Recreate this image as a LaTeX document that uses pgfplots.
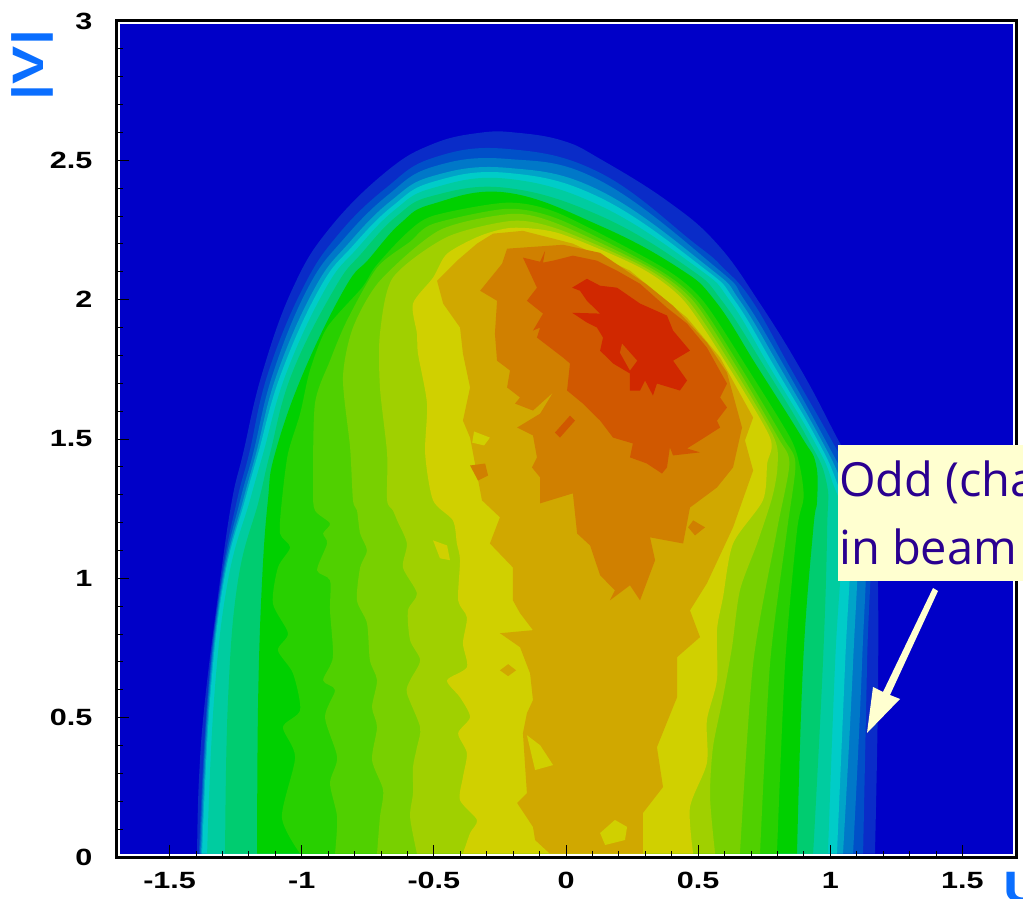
\documentclass[border=0pt]{standalone}
\usepackage{pgfplots}
\usepackage{fontspec}
\pgfplotsset{compat=1.18}
\setmainfont{Liberation Sans}
\newfontfamily\notefont{Open Sans}
\newfontfamily\tickfont[FakeStretch=1.3]{Liberation Sans}
\definecolor{c0}{HTML}{0000C8}
\definecolor{c1}{HTML}{0A2CC8}
\definecolor{c2}{HTML}{0050C8}
\definecolor{c3}{HTML}{0078C8}
\definecolor{c4}{HTML}{00A4C8}
\definecolor{c5}{HTML}{00CCC8}
\definecolor{c6}{HTML}{00CCA0}
\definecolor{c7}{HTML}{00CC70}
\definecolor{c8}{HTML}{00D000}
\definecolor{c9}{HTML}{28D000}
\definecolor{c10}{HTML}{50D000}
\definecolor{c11}{HTML}{78D000}
\definecolor{c12}{HTML}{A0D000}
\definecolor{c13}{HTML}{D0D000}
\definecolor{c14}{HTML}{D0A800}
\definecolor{c15}{HTML}{D08000}
\definecolor{c16}{HTML}{D05800}
\definecolor{c17}{HTML}{D02800}
\definecolor{notebg}{HTML}{FFFFD0}
\definecolor{notefg}{HTML}{2A0090}
\definecolor{lab}{HTML}{0A6EFF}
\pgfplotsset{band/.style={fill=#1,draw=none,mark=none,forget plot},sband/.style={fill=#1,draw=none,mark=none,forget plot,smooth,tension=0.7},wband/.style={fill=#1,draw=none,mark=none,forget plot,smooth,tension=0.45}}
\begin{document}
\begin{tikzpicture}
\clip (-117pt,-41pt) rectangle (906pt,857pt);
\begin{axis}[
 at={(0pt,0pt)},anchor=south west,scale only axis,
 width=899.5pt,height=836pt,
 xmin=-1.699,xmax=1.7045,ymin=0,ymax=3,
 axis on top,
 axis line style={line width=3pt,black},
 xtick={-1.5,-1,-0.5,0,0.5,1,1.5},
 xticklabels={-1.5,-1,-0.5,0,0.5,1,1.5},
 ytick={0,0.5,1,1.5,2,2.5,3},
 yticklabels={0,0.5,1,1.5,2,2.5,3},
 minor x tick num=4,minor y tick num=4,
 xtick pos=bottom,ytick pos=left,
 tick align=inside,
 major tick length=12pt,minor tick length=6pt,
 tick style={black,line width=0.9pt},
 /pgf/number format/assume math mode=true,
 xticklabel style={font=\tickfont\bfseries\fontsize{23.5}{23.5}\selectfont,yshift=-12pt},
 yticklabel style={font=\tickfont\bfseries\fontsize{23.5}{23.5}\selectfont,xshift=-21pt},
]
\addplot[band=c0] coordinates {(-1.6865,0.012)(1.692,0.012)(1.692,2.988)(-1.6865,2.988)} --cycle;
% c1
\addplot[sband=c1] coordinates {(-1.396,0.012)(-1.389,.276)(-1.366,.563)(-1.309,.993)(-1.264,1.280)(-1.222,1.448)(-1.150,1.735)(-1.033,2.043)(-.893,2.258)(-.677,2.462)(-.503,2.559)(-.325,2.599)(-.185,2.599)(-.011,2.570)(.129,2.505)(.382,2.355)(.571,2.201)(.734,1.986)(.897,1.735)(1.025,1.505)(1.112,1.351)(1.169,1.136)(1.180,.993)(1.180,.563)(1.169,0.012)} --cycle;
% c2
\addplot[sband=c2] coordinates {(-1.389,0.012)(-1.358,.563)(-1.305,.993)(-1.245,1.280)(-1.199,1.448)(-1.128,1.735)(-.995,2.043)(-.859,2.237)(-.681,2.401)(-.503,2.509)(-.223,2.541)(.129,2.455)(.488,2.201)(.594,2.115)(.704,1.996)(.848,1.756)(.999,1.505)(1.082,1.351)(1.150,1.172)(1.139,.695)(1.124,0.012)} --cycle;
% c3
\addplot[sband=c3] coordinates {(-1.385,0.012)(-1.355,.563)(-1.302,.993)(-1.233,1.280)(-1.184,1.448)(-1.109,1.735)(-.976,2.043)(-.840,2.219)(-.673,2.376)(-.503,2.477)(-.223,2.505)(.129,2.427)(.568,2.115)(.677,1.996)(.829,1.756)(.976,1.505)(1.059,1.351)(1.131,1.172)(1.120,.695)(1.086,0.012)} --cycle;
% c4
\addplot[sband=c4] coordinates {(-1.381,0.012)(-1.351,.563)(-1.298,.993)(-1.222,1.280)(-1.173,1.448)(-1.093,1.735)(-.950,2.043)(-.821,2.204)(-.662,2.355)(-.503,2.444)(-.223,2.473)(.129,2.391)(.541,2.115)(.658,1.996)(.810,1.756)(.961,1.505)(1.040,1.351)(1.101,1.172)(1.086,.695)(1.048,0.012)} --cycle;
% c5
\addplot[sband=c5] coordinates {(-1.377,0.012)(-1.347,.563)(-1.294,.993)(-1.215,1.280)(-1.165,1.448)(-1.078,1.735)(-.931,2.043)(-.806,2.194)(-.655,2.337)(-.503,2.423)(-.223,2.455)(.129,2.366)(.518,2.115)(.639,1.996)(.791,1.756)(.946,1.505)(1.022,1.351)(1.075,1.172)(1.056,.695)(1.025,0.012)} --cycle;
% c6
\addplot[sband=c6] coordinates {(-1.358,0.012)(-1.332,.563)(-1.279,.993)(-1.196,1.280)(-1.146,1.448)(-1.059,1.735)(-.908,2.043)(-.791,2.183)(-.647,2.323)(-.503,2.401)(-.223,2.434)(.129,2.337)(.496,2.115)(.620,1.996)(.772,1.756)(.931,1.505)(1.006,1.351)(1.044,1.172)(1.018,.695)(.991,0.012)} --cycle;
% c7
\addplot[sband=c7] coordinates {(-1.290,0.012)(-1.279,.563)(-1.241,.993)(-1.162,1.280)(-1.120,1.448)(-1.037,1.735)(-.874,2.043)(-.772,2.168)(-.639,2.301)(-.503,2.373)(-.223,2.401)(.129,2.301)(.462,2.115)(.590,1.996)(.753,1.756)(.912,1.505)(.984,1.351)(.988,1.172)(.972,.695)(.935,0.012)} --cycle;
% c8
\addplot[sband=c8] coordinates {(-1.169,0.012)(-1.165,.563)(-1.150,.993)(-1.128,1.280)(-1.101,1.448)(-.995,1.735)(-.836,2.043)(-.745,2.147)(-.624,2.276)(-.503,2.344)(-.223,2.384)(.129,2.265)(.424,2.115)(.564,1.996)(.726,1.756)(.893,1.505)(.945,1.412)(.950,1.280)(.935,1.172)(.897,.695)(.874,0.012)} --cycle;
% c9
\addplot[wband=c9] coordinates {(-1.006,0.012)(-1.075,.143)(-1.025,.358)(-1.071,.466)(-1.006,.527)(-1.033,.659)(-1.090,.742)(-1.052,.803)(-1.109,.910)(-1.090,1.039)(-1.044,1.111)(-1.082,1.161)(-1.075,1.280)(-1.052,1.448)(-1.006,1.591)(-.969,1.746)(-.904,1.900)(-.772,2.043)(-.720,2.120)(-.605,2.237)(-.503,2.301)(-.223,2.348)(-.023,2.308)(.367,2.115)(.518,1.996)(.685,1.756)(.848,1.505)(.885,1.400)(.899,1.290)(.874,1.172)(.829,.695)(.798,0.012)} --cycle;
% c10
\addplot[wband=c10] coordinates {(-.874,0.012)(-.866,.143)(-.893,.265)(-.866,.358)(-.912,.502)(-.874,.599)(-.919,.634)(-.882,.717)(-.893,.885)(-.893,.993)(-.942,1.029)(-.904,1.125)(-.919,1.161)(-.893,1.197)(-.950,1.244)(-.957,1.326)(-.950,1.627)(-.893,1.781)(-.829,1.925)(-.715,2.115)(-.590,2.208)(-.503,2.272)(-.223,2.326)(-.023,2.287)(.337,2.115)(.496,1.996)(.662,1.756)(.821,1.505)(.868,1.412)(.836,1.172)(.772,.695)(.734,0.012)} --cycle;
% c11
\addplot[wband=c11] coordinates {(-.715,0.012)(-.704,.143)(-.692,.240)(-.734,.348)(-.715,.466)(-.734,.538)(-.715,.634)(-.742,.706)(-.753,.839)(-.791,.921)(-.779,1.039)(-.753,1.100)(-.779,1.161)(-.791,1.244)(-.806,1.280)(-.817,1.470)(-.844,1.720)(-.806,1.900)(-.704,2.068)(-.477,2.250)(-.201,2.308)(-.023,2.269)(.318,2.115)(.481,1.996)(.647,1.756)(.802,1.505)(.845,1.412)(.798,1.172)(.708,.695)(.658,0.012)} --cycle;
% c12
\addplot[wband=c12] coordinates {(-.564,0.012)(-.590,.143)(-.579,.229)(-.579,.323)(-.564,.394)(-.552,.466)(-.602,.588)(-.590,.634)(-.552,.706)(-.590,.778)(-.598,.885)(-.564,.946)(-.617,1.039)(-.602,1.125)(-.639,1.208)(-.655,1.244)(-.677,1.280)(-.677,1.448)(-.704,1.685)(-.704,1.878)(-.655,2.079)(-.450,2.225)(-.201,2.283)(-.023,2.251)(.299,2.115)(.462,1.996)(.632,1.756)(.787,1.505)(.800,1.400)(.780,1.290)(.723,1.125)(.658,.957)(.628,.753)(.594,.573)(.556,.394)(.545,.215)(.564,0.012)} --cycle;
% c13
\addplot[wband=c13] coordinates {(-.390,0.012)(-.363,.086)(-.337,.133)(-.401,.204)(-.390,.287)(-.375,.373)(-.408,.444)(-.363,.502)(-.401,.573)(-.450,.634)(-.375,.681)(-.390,.767)(-.375,.860)(-.408,.921)(-.401,1.065)(-.413,1.125)(-.428,1.208)(-.503,1.280)(-.533,1.448)(-.526,1.627)(-.560,1.806)(-.564,1.878)(-.579,1.986)(-.503,2.079)(-.450,2.165)(-.325,2.229)(-.201,2.258)(-.023,2.237)(.280,2.115)(.446,1.996)(.617,1.756)(.772,1.505)(.761,1.412)(.745,1.280)(.632,1.125)(.594,.932)(.571,.814)(.571,.634)(.533,.491)(.533,.337)(.469,.179)(.481,0.012)} --cycle;
% c14
\addplot[band=c14] coordinates {(-.061,0.012)(-.117,.061)(-.125,.108)(-.185,.194)(-.148,.229)(-.163,.444)(-.148,.516)(-.125,.563)(-.136,.659)(-.174,.753)(-.250,.803)(-.125,.814)(-.174,.875)(-.201,.921)(-.201,1.039)(-.288,1.125)(-.250,1.219)(-.318,1.280)(-.363,1.505)(-.390,1.566)(-.363,1.685)(-.390,1.806)(-.401,1.900)(-.465,1.986)(-.488,2.068)(-.412,2.140)(-.337,2.201)(-.276,2.237)(-.163,2.247)(.026,2.201)(.242,2.104)(.458,1.935)(.583,1.792)(.708,1.577)(.677,1.495)(.708,1.387)(.632,1.183)(.533,.982)(.469,.885)(.507,.789)(.420,.717)(.420,.573)(.344,.394)(.367,.251)(.291,.158)(.291,0.012)} --cycle;
% c13 islands in c14
\addplot[band=c13] coordinates {(.129,.086)(.185,.133)(.231,.108)(.223,.061)(.148,.043)} --cycle;
\addplot[band=c13] coordinates {(-.148,.437)(-.098,.401)(-.049,.330)(-.117,.312)} --cycle;
\addplot[band=c13] coordinates {(-.348,1.527)(-.288,1.505)(-.310,1.477)(-.355,1.487)} --cycle;
% c14 island in c13
\addplot[band=c14] coordinates {(-.250,.670)(-.219,.692)(-.189,.670)(-.219,.649)} --cycle;
% c13 island in c12
\addplot[band=c13] coordinates {(-.503,1.136)(-.450,1.118)(-.439,1.065)(-.477,1.072)} --cycle;
% c15
\addplot[band=c15] coordinates {(-.223,2.183)(-.011,2.197)(.129,2.168)(.306,2.054)(.405,1.978)(.533,1.846)(.609,1.738)(.666,1.541)(.632,1.398)(.571,1.326)(.469,1.254)(.443,1.125)(.318,1.147)(.337,1.065)(.280,.921)(.242,.975)(.166,.921)(.185,.957)(.129,1.011)(.091,1.118)(.042,1.161)(.026,1.305)(-.098,1.269)(-.098,1.362)(-.129,1.398)(-.110,1.434)(-.125,1.513)(-.185,1.541)(-.098,1.591)(-.049,1.667)(-.125,1.602)(-.193,1.627)(-.174,1.649)(-.223,1.685)(-.212,1.746)(-.261,1.781)(-.269,1.878)(-.261,1.996)(-.325,2.032)(-.242,2.129)} --cycle;
\addplot[band=c15] coordinates {(-.363,1.405)(-.306,1.412)(-.295,1.369)(-.333,1.351)} --cycle;
\addplot[band=c15] coordinates {(.462,1.183)(.481,1.208)(.526,1.183)(.488,1.154)} --cycle;
% c16
\addplot[band=c16] coordinates {(-.163,2.151)(-.098,2.136)(-.079,2.176)(-.087,2.133)(-.049,2.140)(.026,2.158)(.117,2.140)(.193,2.104)(.280,2.057)(.382,1.971)(.458,1.914)(.533,1.828)(.609,1.699)(.583,1.649)(.609,1.613)(.571,1.566)(.583,1.541)(.507,1.495)(.458,1.466)(.507,1.452)(.405,1.441)(.393,1.470)(.382,1.398)(.363,1.376)(.306,1.412)(.242,1.434)(.253,1.484)(.178,1.505)(.129,1.566)(.064,1.627)(.004,1.674)(.015,1.771)(-.011,1.792)(-.110,1.864)(-.098,1.900)(-.125,1.889)(-.087,1.950)(-.148,1.996)(-.110,2.043)} --cycle;
\addplot[band=c16] coordinates {(-.042,1.523)(.015,1.584)(.034,1.566)(-.023,1.505)} --cycle;
% c17
\addplot[band=c17] coordinates {(.023,2.043)(.079,2.075)(.129,2.050)(.193,2.043)(.280,1.986)(.382,1.943)(.405,1.889)(.469,1.817)(.405,1.781)(.458,1.710)(.431,1.674)(.344,1.699)(.329,1.656)(.299,1.710)(.280,1.674)(.242,1.674)(.242,1.735)(.178,1.771)(.129,1.817)(.140,1.864)(.117,1.900)(.079,1.918)(.023,1.953)(.129,1.950)(.079,1.996)(.053,2.032)} --cycle;
\addplot[band=c16] coordinates {(.212,1.842)(.269,1.781)(.242,1.746)(.204,1.810)} --cycle;
\end{axis}
% annotation
\fill[notebg] (721pt,276pt) rectangle (915pt,412pt);
\node[anchor=base west,inner sep=0pt,text=notefg,font=\notefont\fontsize{47}{47}\selectfont] at (722pt,360pt) {Odd (charge};
\node[anchor=base west,inner sep=0pt,text=notefg,font=\notefont\fontsize{47}{47}\selectfont] at (722pt,292pt) {in beam};
\fill[notebg] (816pt,269pt)--(821pt,266pt)--(773pt,162pt)--(783pt,158pt)--(750pt,124pt)--(756pt,170pt)--(766pt,165pt)--cycle;
\node[anchor=center,rotate=90,text=lab,font=\tickfont\bfseries\fontsize{44}{44}\selectfont,inner sep=0pt] at (-85pt,792pt) {|V|};
\node[anchor=base west,text=lab,font=\tickfont\bfseries\fontsize{44}{44}\selectfont,inner sep=0pt] at (886pt,-45pt) {U};
\end{tikzpicture}
\end{document}
